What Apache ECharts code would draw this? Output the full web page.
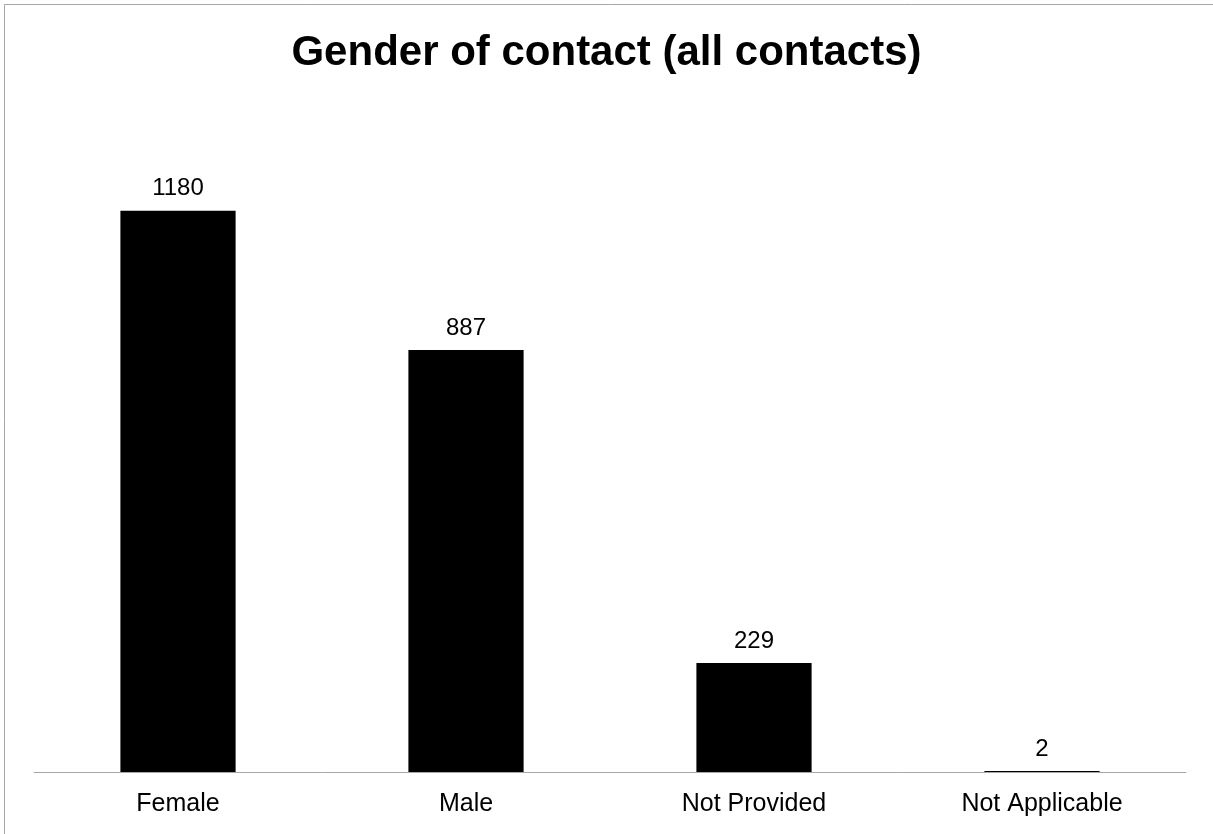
<!DOCTYPE html>
<html>
<head>
<meta charset="utf-8">
<script src="https://cdn.jsdelivr.net/npm/echarts@6/dist/echarts.min.js"></script>
<style>
html,body{margin:0;padding:0;background:#fff;}
#chart{width:1213px;height:834px;}
</style>
</head>
<body>
<div id="chart"></div>
<script>
const titleText = 'Gender of contact (all contacts)';
const categories = ['Female', 'Male', 'Not Provided', 'Not Applicable'];
const counts = [1180, 887, 229, 2];

const chart = echarts.init(document.getElementById('chart'), null, {renderer: 'canvas'});
chart.setOption({
  backgroundColor: '#ffffff',
  animation: false,
  textStyle: {fontFamily: 'Liberation Sans, Arial, sans-serif'},
  title: {
    text: titleText,
    left: 'center',
    top: 27,
    textStyle: {fontSize: 42, fontWeight: 'bold', color: '#000', fontFamily: 'Liberation Sans, Arial, sans-serif'}
  },
  graphic: [{
    type: 'rect',
    shape: {x: 4.5, y: 4.5, width: 1400, height: 1000},
    style: {fill: 'none', stroke: '#a6a6a6', lineWidth: 1},
    silent: true
  }],
  grid: {left: 34, right: 27, top: 106, bottom: 62, containLabel: false},
  xAxis: {
    type: 'category',
    data: categories,
    axisLine: {show: true, lineStyle: {color: '#a6a6a6', width: 1}},
    axisTick: {show: false},
    axisLabel: {fontSize: 25, color: '#000', margin: 20, fontFamily: 'Liberation Sans, Arial, sans-serif'}
  },
  yAxis: {
    type: 'value',
    min: 0,
    max: 1400,
    show: false,
    splitLine: {show: false}
  },
  series: [{
    type: 'bar',
    data: counts,
    barWidth: '40%',
    itemStyle: {color: '#000000'},
    label: {
      show: true,
      position: 'top',
      distance: 10,
      fontSize: 24,
      color: '#000',
      fontFamily: 'Liberation Sans, Arial, sans-serif'
    }
  }]
});
</script>
</body>
</html>
